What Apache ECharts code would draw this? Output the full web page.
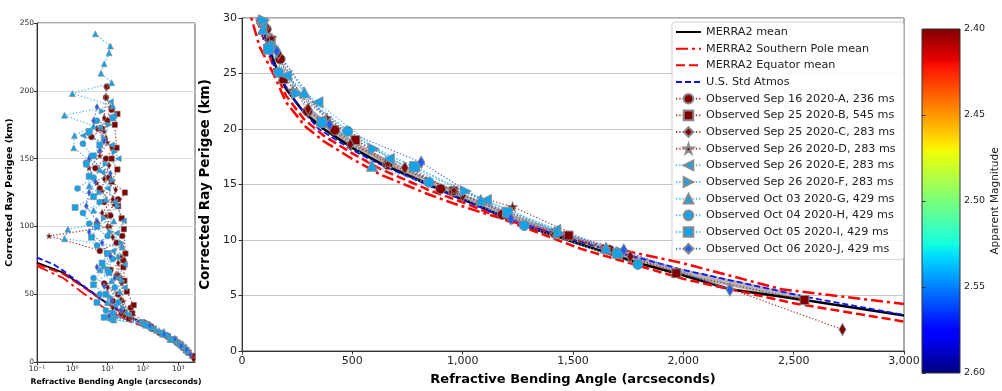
<!DOCTYPE html>
<html><head><meta charset="utf-8">
<script src="https://cdn.jsdelivr.net/npm/echarts@6/dist/echarts.min.js"></script>
<style>html,body{margin:0;padding:0;background:#fff}#c{width:1002px;height:391px}</style>
</head><body><div id="c"></div><script>
// ---------- DATA: [bending angle (arcsec), ray perigee (km)] ----------
const merraMean = [[0.1,73.3],[0.55,65.9],[2,56.1],[9,43.9],[32,35.3],[62,31.6],[80,30.0],[100,28.6],[150,25.8],[200,23.6],[280,21.5],[370,20.0],[500,18.3],[627,16.9],[847,15.0],[958,14.0],[1082,13.0],[1218,11.8],[1279,11.3],[1536,9.6],[1797,7.9],[1968,7.0],[2211,5.56],[2549,4.6],[3000,3.2]];
const merraSouthPole = [[0.1,70.8],[0.55,62],[2,51],[9,39],[30,32],[38,30.3],[80,27.4],[144,24.9],[200,22.4],[288,20.2],[370,18.9],[500,17.3],[627,15.9],[847,14.1],[958,13.3],[1082,12.5],[1218,11.7],[1536,9.9],[2000,7.9],[2445,5.56],[3000,4.24]];
const merraEquator = [[0.1,72],[0.55,65],[2,55.5],[9,43.5],[32,34.8],[60,30.3],[100,28.0],[150,25.2],[200,23.0],[280,20.9],[370,19.4],[500,17.8],[627,16.4],[847,14.5],[1000,13.4],[1218,11.6],[1536,9.2],[2000,6.5],[2500,4.3],[3000,2.65]];
const usStdAtmos = [[0.1,77],[0.3,72],[0.55,67.5],[2,56.5],[9,44],[32,35.3],[68,30.3],[100,28.2],[150,25.4],[250,22.2],[348,20.0],[500,18.1],[627,16.8],[847,14.9],[1218,11.8],[1536,9.8],[2000,7.3],[2549,4.9],[3000,3.25]];
const merraSpread = [[300,21.6],[500,18.6],[700,16.5],[958,14.2],[1218,12.0],[1536,9.8],[1968,7.2],[2549,4.7]];

const obsA = [[9.5,203],[9,195],[13,186],[10,178],[7,172],[3.5,166],[14,158],[9,150],[4.5,143],[11,136],[6,128],[20,120],[8,118],[12,108],[5,102],[26,93],[18,88],[6,82],[28,75],[12,68],[22,62],[8,58],[20,50],[14,45],[45,40],[25,36],[40,32],[110,29.0],[173,26.3],[297,21.6],[420,19.9],[660,16.8],[900,14.6],[1180,12.3],[1418,10.6],[1665,9.1]];
const obsB = [[19,183],[16,175],[18,158],[13,150],[19,142],[13,133],[31,125],[20,115],[25,106],[29,98],[32,80],[28,70],[30,60],[35,52],[55,42],[50,36],[130,28.0],[188,24.5],[514,19.0],[958,14.4],[1480,10.4],[1968,7.0],[2549,4.6]];
const obsC = [[9,203],[9,195],[8,180],[5,172],[9,165],[6,155],[11,145],[8,135],[17,127],[14,120],[7,110],[10,100],[14,92],[26,85],[9,80],[20,73],[17,64],[10,55],[24,46],[14,40],[30,34],[110,29.2],[165,26.8],[300,21.8],[491,18.6],[738,16.5],[1000,14.0],[1418,10.6],[1760,8.5],[2211,5.6],[2721,1.94]];
const obsD = [[12,188],[8,170],[10,162],[6,152],[3,143],[5,132],[7,126],[15,116],[9,108],[12,100],[0.22,93],[24,78],[20,65],[25,58],[28,45],[30,38],[45,33],[135,28.2],[230,23.5],[385,21.0],[660,16.9],[960,14.5],[1226,13.0],[1650,9.2]];
const obsE = [[12,192],[15,182],[6,173],[2,167],[13,160],[20,150],[7,140],[10,128],[16,118],[28,104],[18,95],[14,82],[30,72],[20,62],[30,55],[16,42],[40,35],[89,29.5],[200,24.8],[342,22.4],[665,17.3],[1105,13.6],[1420,10.9]];
const obsF = [[7,185],[11,175],[8,165],[16,155],[9,146],[14,134],[6,125],[20,115],[8,106],[12,96],[25,88],[8,70],[26,60],[12,48],[28,40],[18,33],[100,29.8],[250,23.2],[597,18.2],[1014,14.4],[1438,10.6],[1720,8.9]];
const obsG = [[4.5,242],[12,233],[11,228],[8,220],[6.5,213],[13,206],[1.0,198],[14,189],[0.6,182],[4,174],[1.15,167],[1.1,158],[6,142],[3,130],[9,120],[4,112],[15,104],[0.75,98],[0.6,91],[26,85],[20,78],[6,68],[13,60],[22,52],[10,44],[35,37],[15,31],[95,29.0],[282,23.3],[589,16.7],[1082,13.6],[1650,9.3]];
const obsH = [[5,178],[3,169],[2,161],[3.5,152],[2.5,147],[4,136],[1.4,128],[6,118],[2,110],[3,102],[10,93],[5,86],[14,76],[10,68],[4,62],[16,55],[6,50],[20,44],[9,38],[12,32],[130,27.5],[165,25.1],[479,19.8],[847,15.2],[1279,11.3],[1794,7.8]];
const obsI = [[14,180],[3,170],[6,160],[4,152],[2.5,146],[3,137],[4,122],[1.2,114],[5,100],[3.5,92],[10,80],[7,73],[11,66],[4,57],[9,50],[5,44],[14,36],[8,33],[120,27.2],[362,20.6],[782,16.6],[1203,12.5],[1703,8.8]];
const obsJ = [[5,188],[4,178],[8,163],[6,156],[3,150],[12,139],[4.5,133],[3,125],[2.5,115],[5,104],[3,96],[7,88],[12,78],[5,70],[16,62],[8,56],[13,45],[24,38],[11,34],[158,27.0],[397,20.4],[812,17.0],[1218,11.9],[1730,9.1],[2211,5.5]];

const obsNames = ['Observed Sep 16 2020-A, 236 ms','Observed Sep 25 2020-B, 545 ms','Observed Sep 25 2020-C, 283 ms','Observed Sep 26 2020-D, 283 ms','Observed Sep 26 2020-E, 283 ms','Observed Sep 26 2020-F, 283 ms','Observed Oct 03 2020-G, 429 ms','Observed Oct 04 2020-H, 429 ms','Observed Oct 05 2020-I, 429 ms','Observed Oct 06 2020-J, 429 ms'];
const modelNames = ['MERRA2 mean','MERRA2 Southern Pole mean','MERRA2 Equator mean','U.S. Std Atmos'];
const mainXTicks = [0, 3000, 500];
const mainYTicks = [0, 30, 5];
const leftYTicks = [0, 250, 50];
const magRange = [2.40, 2.60, 0.05];
const magnitudeLabel = 'Apparent Magnitude';
const xTitle = 'Refractive Bending Angle (arcseconds)';
const yTitle = 'Corrected Ray Perigee (km)';

// ---------- styles ----------
const FONT = 'DejaVu Sans';
const MAROON = '#800000', LBLUE = '#14a2e8', DBLUE = '#1f5cf2';
const STAR = 'path://M5,0L6.18,3.62L10,3.62L6.91,5.86L8.09,9.5L5,7.26L1.91,9.5L3.09,5.86L0,3.62L3.82,3.62Z';
const TRI_L = 'path://M0,5L10,0L10,10Z';
const TRI_R = 'path://M10,5L0,0L0,10Z';
const obsData = [obsA,obsB,obsC,obsD,obsE,obsF,obsG,obsH,obsI,obsJ];
const obsStyle = [
  {sym:'circle', big:10, small:6, c:MAROON, lc:'#a0403c'},
  {sym:'rect', big:9, small:5.5, c:MAROON, lc:'#a0403c'},
  {sym:'diamond', big:[7,12], small:[4,7], c:MAROON, lc:'#a0403c'},
  {sym:STAR, big:10, small:6, c:MAROON, lc:'#a0403c'},
  {sym:TRI_L, big:[11,11], small:6, c:LBLUE, lc:'#4cbcf2'},
  {sym:TRI_R, big:[11,11], small:6, c:LBLUE, lc:'#4cbcf2'},
  {sym:'triangle', big:11, small:6, c:LBLUE, lc:'#4cbcf2'},
  {sym:'circle', big:10, small:6, c:LBLUE, lc:'#4cbcf2'},
  {sym:'rect', big:10, small:6, c:LBLUE, lc:'#4cbcf2'},
  {sym:'diamond', big:[7,12], small:[4,7], c:DBLUE, lc:'#3a6cf0'}
];
const modelData = [merraMean, merraSouthPole, merraEquator, usStdAtmos];
const modelStyle = [
  {c:'#000000', w:2.5, t:'solid'},
  {c:'#ff0000', w:2.5, t:[12,4,3,4]},
  {c:'#ff0000', w:2.5, t:[9,4]},
  {c:'#1010ff', w:1.8, t:[6,3]}
];

const series = [];
series.push({type:'line', name:'spread', xAxisIndex:1, yAxisIndex:1, data:merraSpread, symbol:'none',
  lineStyle:{color:'#b4b4b4', width:7}, silent:true, z:1});
modelData.forEach((d,i)=>{
  const s = modelStyle[i];
  [0,1].forEach(g=>{
    series.push({type:'line', name:modelNames[i], xAxisIndex:g, yAxisIndex:g, data:d, symbol:'none',
      itemStyle:{color:s.c},
      lineStyle:{color:s.c, width:g===0? Math.min(s.w,1.8): s.w, type:s.t}, z:2});
  });
});
obsData.forEach((d,i)=>{
  const s = obsStyle[i];
  [1,0].forEach(g=>{
    series.push({type:'line', name:obsNames[i], xAxisIndex:g, yAxisIndex:g, data:d,
      symbol:s.sym, symbolSize: g===1? s.big : s.small, showAllSymbol:true,
      itemStyle:{color:s.c, borderColor:'#8a8a8a', borderWidth: g===1?1:0.6},
      lineStyle:{color:s.lc, width:1.2, type:[1.3,2]}, z:3});
  });
});

const sup = {'-':'\u207b','0':'\u2070','1':'\u00b9','2':'\u00b2','3':'\u00b3'};
function logLabel(v){
  const l = Math.log10(v), e = Math.round(l);
  if (Math.abs(l-e) > 1e-6) return '';
  return '10' + String(e).split('').map(c=>sup[c]).join('');
}
const axisLineStyle = {show:true, lineStyle:{color:'#333', width:1}};
const tickStyle = {show:true, length:3.5, lineStyle:{color:'#333'}};

const jet = [
  [0,'#800000'],[0.09,'#e80000'],[0.11,'#ff1300'],[0.34,'#ffec00'],[0.35,'#f7f600'],[0.36,'#eeff08'],
  [0.625,'#14ffe2'],[0.65,'#00e5f7'],[0.66,'#00dbff'],[0.875,'#0000ff'],[0.89,'#0000ff'],[1,'#000080']
];

const legendData = modelNames.map(n=>({name:n, itemStyle:{color:'rgba(0,0,0,0)', borderWidth:0, opacity:0}}))
  .concat(obsNames.map(n=>({name:n})));

const option = {
  animation:false,
  textStyle:{fontFamily:FONT},
  grid:[
    {left:37, top:23, width:158, height:340, show:true, borderColor:'#555', borderWidth:1, backgroundColor:'transparent'},
    {left:242, top:18, width:662, height:340, show:true, borderColor:'#555', borderWidth:1, backgroundColor:'transparent'},
    {left:922, top:29, width:41, height:344, show:true, borderColor:'#333', borderWidth:1,
      backgroundColor:{type:'linear', x:0, y:0, x2:0, y2:1, colorStops: jet.map(s=>({offset:s[0], color:s[1]}))}}
  ],
  xAxis:[
    {gridIndex:0, type:'log', logBase:10, min:0.1, max:3000,
      axisLine:axisLineStyle, axisTick:{show:true, length:3, lineStyle:{color:'#333'}}, splitLine:{show:false},
      axisLabel:{formatter:logLabel, fontSize:7.5, color:'#222', margin:3, showMaxLabel:false},
      name:xTitle, nameLocation:'middle', nameGap:15,
      nameTextStyle:{fontWeight:'bold', fontSize:7.8, color:'#000'}},
    {gridIndex:1, type:'value', min:mainXTicks[0], max:mainXTicks[1], interval:mainXTicks[2],
      axisLine:axisLineStyle, axisTick:tickStyle, splitLine:{show:false},
      axisLabel:{fontSize:11, color:'#222', margin:5},
      name:xTitle, nameLocation:'middle', nameGap:22,
      nameTextStyle:{fontWeight:'bold', fontSize:13, color:'#000'}},
    {gridIndex:2, type:'value', show:false, min:0, max:1}
  ],
  yAxis:[
    {gridIndex:0, type:'value', min:leftYTicks[0], max:leftYTicks[1], interval:leftYTicks[2],
      axisLine:axisLineStyle, axisTick:{show:true, length:3, lineStyle:{color:'#333'}},
      splitLine:{show:true, lineStyle:{color:'#dcdcdc', width:1}},
      axisLabel:{fontSize:7.5, color:'#222', margin:3},
      name:yTitle, nameLocation:'middle', nameGap:22,
      nameTextStyle:{fontWeight:'bold', fontSize:9.5, color:'#000'}},
    {gridIndex:1, type:'value', min:mainYTicks[0], max:mainYTicks[1], interval:mainYTicks[2],
      axisLine:axisLineStyle, axisTick:tickStyle,
      splitLine:{show:true, lineStyle:{color:'#c8c8c8', width:1}},
      axisLabel:{fontSize:11, color:'#222', margin:5},
      name:yTitle, nameLocation:'middle', nameGap:27,
      nameTextStyle:{fontWeight:'bold', fontSize:13.5, color:'#000'}},
    {gridIndex:2, type:'value', min:magRange[0], max:magRange[1], interval:magRange[2], inverse:true, position:'right',
      axisLine:{show:false}, axisTick:{show:true, length:3.5, lineStyle:{color:'#333'}}, splitLine:{show:false},
      axisLabel:{fontSize:9.5, color:'#222', margin:4, formatter:v=>v.toFixed(2)},
      name:magnitudeLabel, nameLocation:'middle', nameGap:30, nameRotate:90,
      nameTextStyle:{fontSize:10.5, color:'#222'}}
  ],
  legend:{
    data: legendData, orient:'vertical', left:672, top:22,
    itemWidth:25, itemHeight:12, itemGap:2.67, padding:[3,8,4,3],
    backgroundColor:'rgba(255,255,255,0.85)', borderColor:'#d0d0d0', borderWidth:1, borderRadius:3,
    textStyle:{fontSize:11.2, color:'#222', lineHeight:14, fontFamily:FONT},
    selectedMode:false
  },
  series: series
};
const chart = echarts.init(document.getElementById('c'), null, {renderer:'canvas'});
chart.setOption(option);
</script></body></html>
